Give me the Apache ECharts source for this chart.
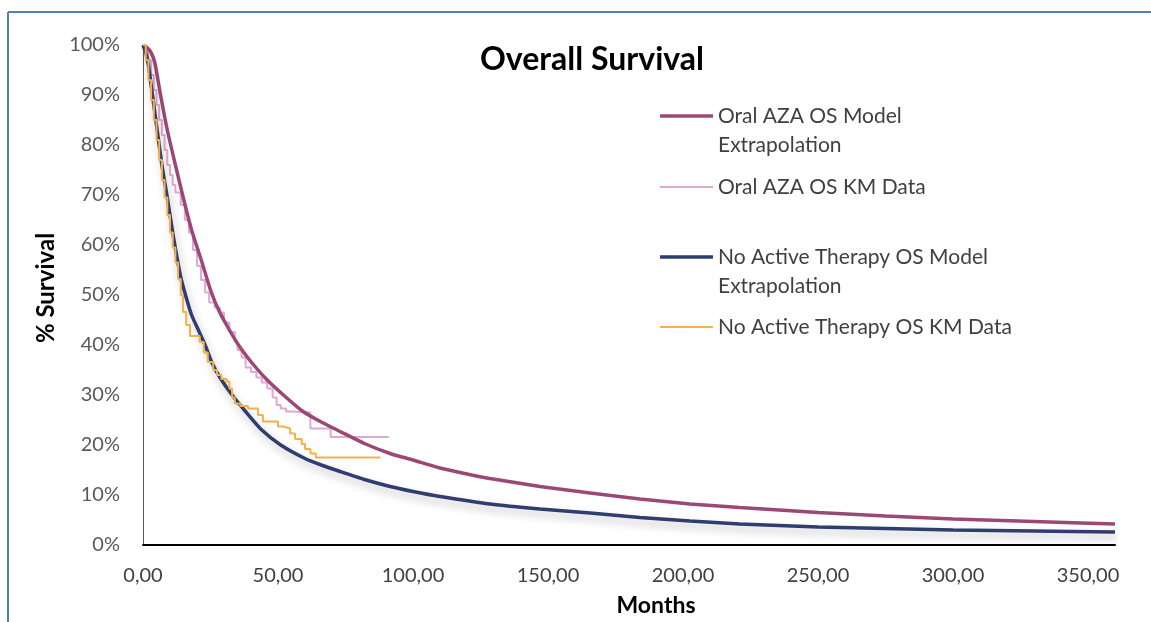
<!DOCTYPE html>
<html>
<head>
<meta charset="utf-8">
<script src="https://cdn.jsdelivr.net/npm/echarts@6/dist/echarts.min.js"></script>
<style>
  html, body { margin: 0; padding: 0; background: #fff; }
  #main { width: 1151px; height: 622px; }
</style>
</head>
<body>
<div id="main"></div>
<script>
// x ticks (months) and y ticks (% survival)
var xTicks = [0, 50, 100, 150, 200, 250, 300, 350];
var yTicks = [0, 10, 20, 30, 40, 50, 60, 70, 80, 90, 100];

var seriesNames = [
  'Oral AZA OS Model\nExtrapolation',
  'Oral AZA OS KM Data',
  'No Active Therapy OS Model\nExtrapolation',
  'No Active Therapy OS KM Data'
];

// [months, % survival]
var azaModel = [[0,100],[1.5,99.5],[3,98.5],[4.4,96.4],[6.5,90],[9,83],[12,76],[14.8,69.7],[18,63],
  [21.8,56.6],[25,51],[28,47],[32,43],[36,39.5],[41,36],[46,33],[52,30],[59,26.8],[66,24.6],
  [73,22.7],[82,20.3],[91.5,18.3],[100,17],[110,15.4],[120,14.2],[128.5,13.3],[147,11.7],
  [165.6,10.4],[184,9.2],[202.6,8.2],[221,7.5],[250,6.5],[275,5.8],[300,5.2],[330,4.7],[360,4.2]];

var azaKM = [[0,100],[1,99],[2,97],[3,94],[4,91],[5,88],[6,85],[7,82],[8,79],[9,76],[10,74],
  [11,72],[12,70.5],[14,68],[15.5,65],[17,62.5],[18.5,59],[20,55.8],[21.5,53],[23,50.5],
  [24.5,48.5],[26.5,47.5],[28.5,46.5],[30,44.5],[32,42.6],[34,40.6],[35,39],[36.5,37.5],
  [38,35.5],[40,34.6],[42,33.5],[44,32.5],[46,31.3],[48,29.5],[49.5,28],[51,27.3],[53,26.7],
  [55,26.5],[62,23.3],[69.5,21.6],[91,21.6]];

var natModel = [[0,100],[1,98.5],[2,96],[3.5,90],[5,84],[7,76],[9,69.5],[11,62.5],[12.6,57.5],
  [14,53.5],[16,49.5],[18,46],[20.5,43],[23,40],[25.5,36.5],[28.5,33.5],[33,30],[38,26.7],
  [44,23],[51,20],[60,17.3],[66,16],[73,14.7],[82,13.1],[91.5,11.7],[100,10.7],[110,9.7],
  [128.5,8.2],[147,7.2],[165.6,6.4],[184,5.5],[202.6,4.8],[221,4.2],[250,3.6],[275,3.3],
  [300,3.0],[330,2.8],[360,2.6]];

var natKM = [[0,100],[1,97],[2,93],[3,89],[4,85],[5,81],[6,77],[7,73],[8,69.5],[9,66],[10,62.5],
  [11,59.5],[12,56.5],[13,53.2],[14,50],[14.8,46.6],[16,44],[17.4,41.8],[21,40.6],[22.5,38.5],
  [24,36.6],[26,35],[27.4,34],[29,33.2],[31,32.7],[32,31.3],[33,29.5],[34,28.3],[36,27.8],
  [38.9,27.3],[42.6,26],[44.4,24.7],[50,23.7],[52,23.3],[54.5,22.3],[56.3,21.2],[58.8,20.2],
  [60,19.2],[62,18.3],[64,17.5],[88,17.5]];

var colors = ['#9c4874', '#e0a9d4', '#2f3d70', '#f4b04a'];
var widths = [3.5, 2, 3.5, 2];
var legendY = [116, 187, 257, 327];

var font = 'Lato, "Open Sans", sans-serif';

var chart = echarts.init(document.getElementById('main'));

var graphics = [
  { type: 'line', shape: { x1: 8, y1: 12, x2: 1151, y2: 12 }, style: { stroke: '#4f81bd', lineWidth: 2 } },
  { type: 'line', shape: { x1: 8, y1: 12, x2: 8, y2: 622 }, style: { stroke: '#4f81bd', lineWidth: 2 } }
];
for (var i = 0; i < seriesNames.length; i++) {
  graphics.push({
    type: 'line',
    shape: { x1: 660, y1: legendY[i], x2: 713, y2: legendY[i] },
    style: { stroke: colors[i], lineWidth: widths[i] }
  });
  graphics.push({
    type: 'text',
    left: 718,
    top: legendY[i] - 14,
    style: {
      text: seriesNames[i],
      fill: '#404040',
      font: '21px ' + font,
      lineHeight: 28.5
    }
  });
}

var option = {
  backgroundColor: '#fff',
  animation: false,
  title: {
    text: 'Overall Survival',
    left: 587,
    top: 39,
    textAlign: 'center',
    textStyle: { fontFamily: font, fontWeight: 'bold', fontSize: 32, color: '#000' }
  },
  grid: { left: 143, right: 36, top: 45, bottom: 75, containLabel: false },
  xAxis: {
    type: 'value',
    min: 0,
    max: 360,
    interval: 50,
    name: 'Months',
    nameLocation: 'middle',
    nameGap: 49,
    nameTextStyle: { fontFamily: font, fontWeight: 'bold', fontSize: 23, color: '#000', padding: [0, 0, 0, 54] },
    axisLine: { show: true, lineStyle: { color: '#000', width: 2 } },
    axisTick: { show: false },
    splitLine: { show: false },
    axisLabel: {
      margin: 21,
      fontFamily: font,
      fontSize: 20,
      color: '#404040',
      formatter: function (v) {
        return xTicks.indexOf(v) >= 0 ? v.toFixed(2).replace('.', ',') : '';
      }
    }
  },
  yAxis: {
    type: 'value',
    min: 0,
    max: 100,
    interval: 10,
    name: '% Survival',
    nameLocation: 'middle',
    nameGap: 74,
    nameRotate: 90,
    nameTextStyle: { fontFamily: font, fontWeight: 'bold', fontSize: 24, color: '#000', padding: [0, 0, 0, 14] },
    axisLine: { show: true, lineStyle: { color: '#595959', width: 1 } },
    axisTick: { show: false },
    splitLine: { show: false },
    axisLabel: {
      margin: 23,
      fontFamily: font,
      fontSize: 20,
      color: '#595959',
      formatter: function (v) {
        return yTicks.indexOf(v) >= 0 ? v + '%' : '';
      }
    }
  },
  graphic: graphics,
  series: [
    {
      name: seriesNames[1], type: 'line', data: azaKM, step: 'end', showSymbol: false, z: 2,
      lineStyle: { color: colors[1], width: widths[1] }
    },
    {
      name: seriesNames[0], type: 'line', data: azaModel, smooth: 0.2, showSymbol: false, z: 3,
      lineStyle: { color: colors[0], width: widths[0] }
    },
    {
      name: seriesNames[2], type: 'line', data: natModel, smooth: 0.2, showSymbol: false, z: 3,
      lineStyle: {
        color: colors[2], width: widths[2],
        shadowColor: 'rgba(0,0,0,0.25)', shadowBlur: 8, shadowOffsetX: 2, shadowOffsetY: 5
      }
    },
    {
      name: seriesNames[3], type: 'line', data: natKM, step: 'end', showSymbol: false, z: 4,
      lineStyle: { color: colors[3], width: widths[3] }
    }
  ]
};

chart.setOption(option);
</script>
</body>
</html>
